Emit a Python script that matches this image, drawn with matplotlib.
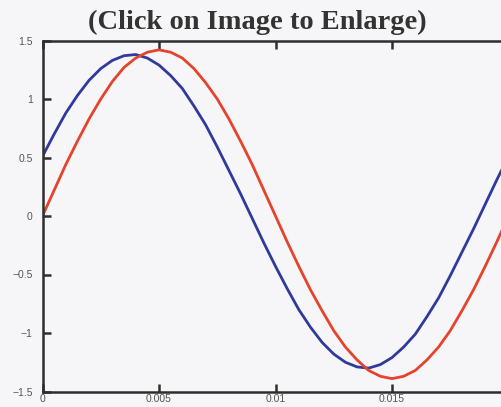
"""
Two phase-shifted 50 Hz waveforms (red reference, blue leading),
one cycle, as in the scanned web figure.
"""

import matplotlib
matplotlib.use("Agg")
import matplotlib.pyplot as plt

# ---------------------------------------------------------------------------
# Data (one sample every 0.5 ms)
# ---------------------------------------------------------------------------

t_ms = [0.0, 0.5, 1.0, 1.5, 2.0, 2.5, 3.0, 3.5, 4.0, 4.5,
        5.0, 5.5, 6.0, 6.5, 7.0, 7.5, 8.0, 8.5, 9.0, 9.5,
        10.0, 10.5, 11.0, 11.5, 12.0, 12.5, 13.0, 13.5, 14.0, 14.5,
        15.0, 15.5, 16.0, 16.5, 17.0, 17.5, 18.0, 18.5, 19.0, 19.5, 20.0]
t = [v / 1000.0 for v in t_ms]

red = [0.00, 0.22, 0.44, 0.64, 0.83, 1.00, 1.15, 1.27, 1.35, 1.40,
       1.42, 1.40, 1.35, 1.26, 1.14, 1.00, 0.83, 0.64, 0.44, 0.22,
       0.00, -0.22, -0.43, -0.63, -0.81, -0.98, -1.12, -1.23, -1.32, -1.37,
       -1.39, -1.37, -1.32, -1.23, -1.12, -0.98, -0.81, -0.63, -0.43, -0.22, 0.00]

blue = [0.51, 0.70, 0.88, 1.03, 1.16, 1.26, 1.33, 1.37, 1.38, 1.35,
        1.29, 1.20, 1.09, 0.94, 0.78, 0.59, 0.39, 0.19, -0.02, -0.23,
        -0.43, -0.62, -0.80, -0.95, -1.08, -1.18, -1.25, -1.29, -1.30, -1.27,
        -1.21, -1.12, -1.01, -0.86, -0.70, -0.51, -0.31, -0.11, 0.10, 0.31, 0.51]

# the 0.02 label falls off the cropped scan, so it is left blank
x_ticks = [0, 0.005, 0.01, 0.015, 0.02]
x_labels = ["0", "0.005", "0.01", "0.015", ""]
y_ticks = [-1.5, -1, -0.5, 0, 0.5, 1, 1.5]
y_labels = ["\u22121.5", "\u22121", "\u22120.5", "0", "0.5", "1", "1.5"]

TITLE = "(Click on Image to Enlarge)"

# ---------------------------------------------------------------------------
# Figure
# ---------------------------------------------------------------------------

BG = "#f6f6f8"
INK = "#2e2e2e"

fig = plt.figure(figsize=(5.01, 4.07), dpi=100, facecolor=BG)
# the scan is cropped on the right: the axes run a little past the edge
ax = fig.add_axes([42.5 / 501, (407 - 391.5) / 407,
                   (508.5 - 42.5) / 501, (391.5 - 40.5) / 407])
ax.set_facecolor(BG)

ax.plot(t, blue, color="#2f3a9c", lw=2.0, solid_joinstyle="round")
ax.plot(t, red, color="#e5432c", lw=2.0, solid_joinstyle="round")

ax.set_xlim(0, 0.02)
ax.set_ylim(-1.5, 1.5)
ax.set_xticks(x_ticks)
ax.set_xticklabels(x_labels)
ax.set_yticks(y_ticks)
ax.set_yticklabels(y_labels)

for s in ax.spines.values():
    s.set_color(INK)
    s.set_linewidth(1.8)

ax.tick_params(direction="in", length=6, width=1.8, color=INK,
               top=True, right=True, labelsize=7.5, labelcolor="#555555",
               labelfontfamily="Liberation Sans")
ax.tick_params(axis="y", pad=7)
ax.tick_params(axis="x", pad=2)

fig.text(257 / 501, 1 - 29 / 407, TITLE, ha="center", va="baseline",
         fontsize=20.5, fontweight="bold", family="Liberation Serif",
         color="#333333")

fig.savefig("out.png", dpi=100, facecolor=BG)
